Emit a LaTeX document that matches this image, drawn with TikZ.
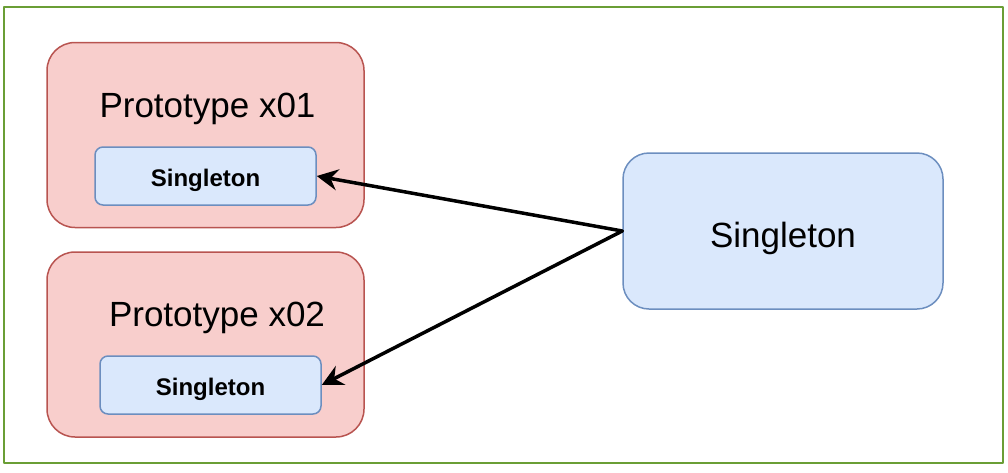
\documentclass[tikz,border=0pt]{standalone}
\usepackage{fontspec}
\setmainfont{Liberation Sans}
\usetikzlibrary{arrows.meta}
\definecolor{protofill}{HTML}{F8CECC}
\definecolor{protoline}{HTML}{B85450}
\definecolor{singfill}{HTML}{DAE8FC}
\definecolor{singline}{HTML}{6C8EBF}
\definecolor{frameline}{HTML}{6A9E35}
\begin{document}
\begin{tikzpicture}[x=1pt,y=-1pt,line join=round,line cap=round,>={Stealth[length=21pt,width=21pt,inset=7pt]},
  proto/.style={draw=protoline,fill=protofill,line width=1.5pt,rounded corners=28pt,minimum width=317pt,minimum height=185pt,inner sep=0pt},
  title/.style={font=\fontsize{35}{42}\selectfont,inner sep=0pt},
  inner/.style={draw=singline,fill=singfill,line width=1.5pt,rounded corners=8pt,minimum width=221pt,minimum height=58pt,inner sep=0pt,
    font=\fontsize{24}{29}\selectfont\bfseries,text height=20pt,text depth=0pt},
  big/.style={draw=singline,fill=singfill,line width=1.5pt,rounded corners=26pt,minimum width=320pt,minimum height=156pt,inner sep=0pt,
    font=\fontsize{35}{42}\selectfont,text height=32pt,text depth=0pt}]
\useasboundingbox (0,0) rectangle (1008,472);
\draw[frameline,line width=2pt] (4,7) rectangle (1003,463);
% the two prototypes, each holding its singleton
\foreach \n/\x/\y/\tx/\ty/\ix/\iy in {1/205.5/135/207.5/117/205.5/176,2/205.5/344.5/217/326/210.5/385}{
  \node[proto] (proto\n) at (\x,\y) {};
  \node[title,anchor=base] (title\n) at (\tx,\ty) {Prototype x0\n};
  \node[inner] (inner\n) at (\ix,\iy) {Singleton};
}
\node[big] (single) at (783,231) {Singleton};
\foreach \n in {1,2} \draw[->,line width=3.5pt] (single.west) -- (inner\n.east);
\end{tikzpicture}
\end{document}
